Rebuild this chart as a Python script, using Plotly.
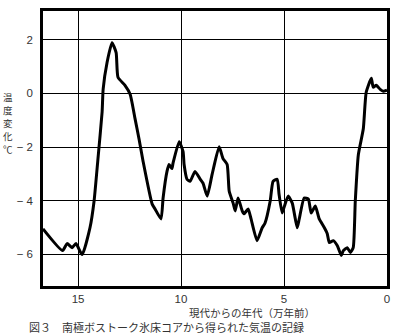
import plotly.graph_objects as go

# Age (10,000 years before present) and temperature change (°C)
age = [16.70, 15.75, 15.53, 15.29, 15.10, 14.80, 14.42, 14.22, 14.03, 13.83, 13.78,
       13.59, 13.35, 13.15, 13.06, 12.72, 12.47, 12.23, 12.04, 11.84, 11.40, 11.26,
       10.97, 10.87, 10.68, 10.58, 10.44, 10.39, 10.09, 9.90, 9.85, 9.71, 9.56, 9.32,
       9.07, 8.93, 8.73, 8.49, 8.15, 7.96, 7.76, 7.66, 7.47, 7.37, 7.23, 7.03, 6.94,
       6.74, 6.60, 6.31, 6.06, 5.92, 5.67, 5.53, 5.33, 5.24, 5.09, 4.95, 4.80, 4.60,
       4.36, 4.26, 4.02, 3.82, 3.68, 3.48, 3.29, 3.04, 2.90, 2.80, 2.61, 2.41, 2.22,
       2.12, 1.93, 1.78, 1.64, 1.54, 1.39, 1.15, 1.01, 0.76, 0.67, 0.52, 0.33, 0.18, 0.00]
temp = [-5.05, -5.86, -5.60, -5.75, -5.60, -6.01, -5.01, -4.01, -2.42, -0.69, 0.16,
        1.15, 1.89, 1.52, 0.60, 0.30, -0.03, -0.95, -1.69, -2.54, -4.13, -4.31,
        -4.68, -3.90, -2.91, -2.65, -2.80, -2.61, -1.80, -2.17, -2.65, -3.20, -3.28, -2.91,
        -3.20, -3.35, -3.83, -3.02, -1.99, -2.43, -2.65, -3.65, -4.09, -4.38, -3.90, -4.38, -4.49,
        -4.31, -4.68, -5.49, -5.01, -4.83, -4.01, -3.28, -3.20, -3.76, -4.46, -4.13, -3.83, -4.09,
        -5.01, -4.68, -3.90, -3.94, -4.46, -4.20, -4.68, -5.01, -5.23, -5.56, -5.49, -5.68, -6.04,
        -5.86, -5.75, -5.93, -5.75, -4.02, -2.28, -1.32, 0.04, 0.56, 0.23, 0.30, 0.15, 0.08, 0.12]

x_ticks = [15, 10, 5, 0]
x_ticktext = ["15", "10", "5", "0"]
y_ticks = [2, 0, -2, -4, -6]
y_ticktext = ["2", "0", "− 2", "− 4", "− 6"]

y_title = "温度変化℃"
x_title = "現代からの年代（万年前）"
caption = "図３　南極ボストーク氷床コアから得られた気温の記録"

FONT = "Noto Sans CJK JP"
TICK_FONT = "Liberation Sans"
TOP, BOTTOM = 8, 286           # plot area edges in px from figure top
PLOT_H = BOTTOM - TOP

fig = go.Figure()
fig.add_trace(go.Scatter(
    x=age, y=temp, mode="lines",
    line=dict(color="black", width=3, shape="spline", smoothing=0.5),
    showlegend=False, hoverinfo="skip",
))

axis_common = dict(
    showline=True, linecolor="black", linewidth=2.5, mirror=True,
    showgrid=True, gridcolor="black", gridwidth=1,
    zeroline=False, ticks="",
    tickfont=dict(family=TICK_FONT, size=11.5, color="#333"),
)

def py(px):
    return (BOTTOM - px) / PLOT_H

annotations = []
# vertical stacked y-axis title, one character per line
for i, ch in enumerate(y_title):
    annotations.append(dict(
        text=ch, xref="paper", yref="paper",
        x=-0.102, y=py(95 + i * 13), showarrow=False,
        xanchor="center", yanchor="middle",
        font=dict(family=FONT, size=9.5, color="#333")))

annotations += [
    dict(text=x_title, xref="paper", yref="paper",
         x=0.608, y=py(312.5), showarrow=False, xanchor="center", yanchor="middle",
         borderpad=0, font=dict(family=FONT, size=10.5, color="#333")),
    dict(text=caption, xref="paper", yref="paper",
         x=-0.0436, y=py(327), showarrow=False, xanchor="left", yanchor="middle",
         borderpad=0, font=dict(family=FONT, size=11, color="#333")),
]

fig.update_layout(
    width=400, height=336,
    margin=dict(l=43, r=13, t=TOP, b=336 - BOTTOM),
    paper_bgcolor="white", plot_bgcolor="white",
    xaxis=dict(range=[16.7, 0], tickvals=x_ticks, ticktext=x_ticktext, ticklabelstandoff=0, **axis_common),
    yaxis=dict(range=[-7.18, 3.07], tickvals=y_ticks, ticktext=y_ticktext, ticklabelstandoff=5, **axis_common),
    annotations=annotations,
)

fig.write_html("out.html")
